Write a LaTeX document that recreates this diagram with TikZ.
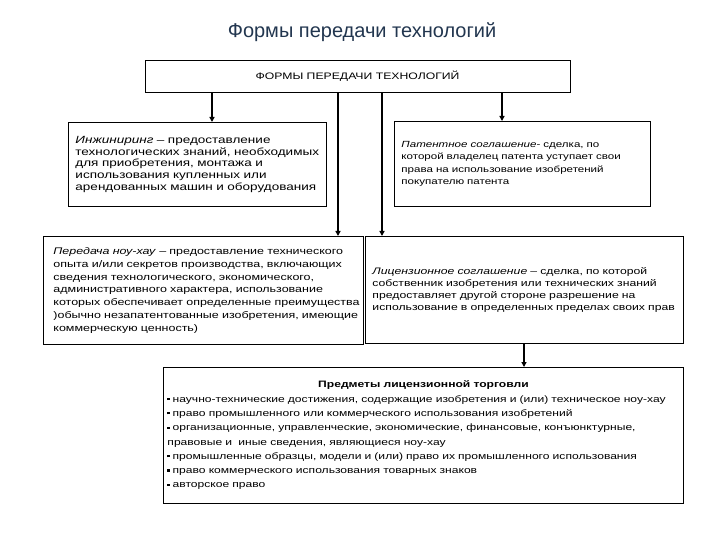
\documentclass[tikz,border=0pt]{standalone}
\usepackage{fontspec}
\setmainfont{Liberation Sans}
\newfontfamily\boxfont[FakeStretch=1.3]{Liberation Sans}
\usetikzlibrary{arrows.meta,positioning,calc}
\definecolor{titleblue}{HTML}{22364F}
\newcommand{\bul}{\rule[2pt]{2.2pt}{2.2pt}\hspace{3pt}}
\newcommand{\ki}{\hspace*{10pt}}

\begin{document}
\begin{tikzpicture}[x=1pt,y=-1pt,
	box/.style={draw,line width=0.9pt,anchor=north west,inner xsep=7pt,inner ysep=0pt,align=left,
		font=\boxfont\fontsize{9.4}{11.9}\selectfont},
	link/.style={line width=1.3pt},
	arr/.style={link,-{Triangle[length=5pt,width=5pt]}}]
	\useasboundingbox (0,0) rectangle (720,540);
	\node[font=\fontsize{20}{24}\selectfont,text=titleblue] (title) at (362,32) {Формы передачи технологий};
	\node[draw,line width=0.9pt,minimum width=425,minimum height=32,font=\boxfont\fontsize{9.4}{11}\selectfont] (forms) at (357.5,76) {ФОРМЫ ПЕРЕДАЧИ ТЕХНОЛОГИЙ};
	\node[box,text width=244,minimum height=84,font=\boxfont\fontsize{10.4}{11.7}\selectfont] (eng) at (68,122)
		{\textit{Инжиниринг} – предоставление\\технологических знаний, необходимых\\для приобретения, монтажа и\\использования купленных или\\арендованных машин и оборудования};
	\node[box,text width=242,minimum height=85,font=\boxfont\fontsize{8.9}{12.5}\selectfont] (pat) at (394,121)
		{\textit{Патентное соглашение}- сделка, по\\которой владелец патента уступает свои\\права на использование изобретений\\покупателю патента};
	\node[box,text width=320,minimum height=108,inner xsep=0pt,font=\boxfont\fontsize{9.6}{12.8}\selectfont] (know) at (43,236)
		{\ki\textit{Передача ноу-хау} – предоставление технического\\\ki опыта и/или секретов производства, включающих\\\ki сведения технологического, экономического,\\\ki административного характера, использование\\\ki которых обеспечивает определенные преимущества\\\ki)обычно незапатентованные изобретения, имеющие\\\ki коммерческую ценность)};
	\node[box,text width=304,minimum height=107,font=\boxfont\fontsize{9.4}{12}\selectfont] (lic) at (365,236)
		{\textit{Лицензионное соглашение} – сделка, по которой\\собственник изобретения или технических знаний\\предоставляет другой стороне разрешение на\\использование в определенных пределах своих прав};
	\node[box,text width=512,minimum height=136,inner xsep=4pt,font=\boxfont\fontsize{9.3}{14.3}\selectfont] (subj) at (163,367)
		{\makebox[\linewidth][c]{\bfseries Предметы лицензионной торговли}\\
		\bul научно-технические достижения, содержащие изобретения и (или) техническое ноу-хау\\
		\bul право промышленного или коммерческого использования изобретений\\
		\bul организационные, управленческие, экономические, финансовые, конъюнктурные,\\
		правовые и\ \ иные сведения, являющиеся ноу-хау\\
		\bul промышленные образцы, модели и (или) право их промышленного использования\\
		\bul право коммерческого использования товарных знаков\\
		\bul авторское право};
	% connectors from the top box
	\coordinate (c1) at (212,0);
	\coordinate (c2) at (338,0);
	\coordinate (c3) at (382,0);
	\coordinate (c4) at (502,0);
	\coordinate (c5) at (524,0);
	\draw[arr] (forms.south -| c1) -- (eng.north -| c1);
	\draw[arr] (forms.south -| c2) -- (know.north -| c2);
	\draw[arr] (forms.south -| c3) -- (lic.north -| c3);
	\draw[arr] (forms.south -| c4) -- (pat.north -| c4);
	\draw[arr] (lic.south -| c5) -- (subj.north -| c5);
\end{tikzpicture}
\end{document}
